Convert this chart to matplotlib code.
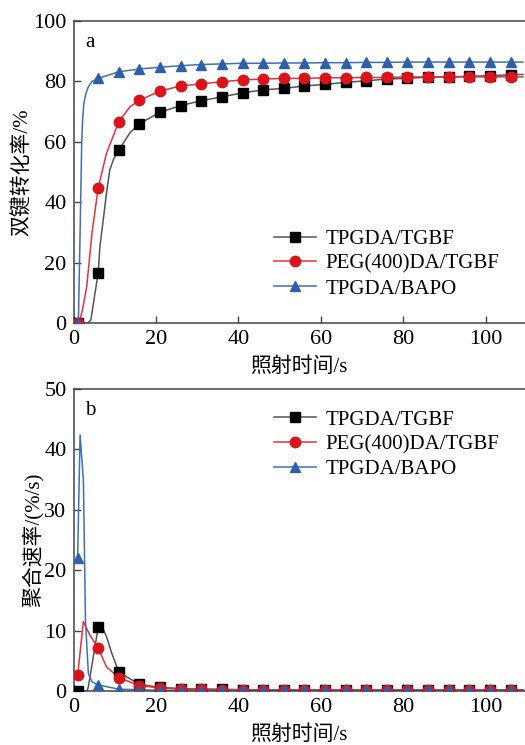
# plot.py
# Double-bond conversion (a) and polymerisation rate (b) vs irradiation time.

import numpy as np
import matplotlib
matplotlib.use('Agg')
import matplotlib.pyplot as plt

plt.rcParams['font.family'] = ['Liberation Serif', 'Noto Sans CJK SC']

labels = ['TPGDA/TGBF', 'PEG(400)DA/TGBF', 'TPGDA/BAPO']

# marker times (s)
t_mark = [1, 6, 11, 16, 21, 26, 31, 36, 41, 46, 51, 56, 61, 66, 71, 76, 81, 86, 91, 96, 101, 106]

# (a) conversion at the markers (%)
conv_black = [0, 16.7, 57.3, 66.0, 69.8, 72.0, 73.6, 74.9, 76.2, 77.2, 77.7,
              78.5, 79.0, 79.7, 80.2, 80.8, 81.0, 81.4, 81.5, 81.7, 81.9, 82.2]
conv_red = [0, 44.8, 66.7, 73.8, 76.8, 78.5, 79.2, 79.9, 80.5, 80.8, 81.0,
            81.0, 81.2, 81.2, 81.3, 81.3, 81.5, 81.5, 81.5, 81.5, 81.5, 81.5]
conv_blue = [0, 81.0, 83.2, 84.1, 84.7, 85.2, 85.6, 85.8, 86.0, 86.0, 86.1,
             86.1, 86.2, 86.2, 86.3, 86.3, 86.4, 86.4, 86.4, 86.4, 86.4, 86.4]

# (a) extra points
conv_black_t = [0, 3.5, 4.2, 5.0, 6.4, 7.2, 8.0, 8.8, 9.8, 13.7, 109]
conv_black_v = [0, 0, 1.0, 8.0, 25.3, 34.0, 43.0, 50.7, 54.5, 63.0, 82.3]
conv_red_t = [0, 1.6, 2.4, 3.2, 4.5, 8.0, 13.7, 109]
conv_red_v = [0, 1.0, 6.0, 12.0, 30.0, 56.2, 71.6, 81.5]
conv_blue_t = [0, 1.2, 1.6, 2.0, 2.2, 2.5, 3.0, 3.6, 4.5, 109]
conv_blue_v = [0, 1.0, 30.0, 60.0, 67.0, 72.7, 76.0, 78.2, 80.0, 86.4]

# (b) polymerisation rate at the markers (%/s)
rate_black = [0, 10.6, 3.1, 1.1, 0.6, 0.4, 0.3, 0.3, 0.2, 0.2, 0.2,
              0.2, 0.2, 0.2, 0.2, 0.2, 0.2, 0.2, 0.2, 0.2, 0.2, 0.2]
rate_red = [2.6, 7.1, 2.2, 0.9, 0.5, 0.3, 0.3, 0.2, 0.2, 0.2, 0.2,
            0.2, 0.2, 0.2, 0.2, 0.2, 0.2, 0.2, 0.2, 0.2, 0.2, 0.2]
rate_blue = [22.0, 1.0, 0.3, 0.2, 0.1, 0.1, 0.1, 0.1, 0.1, 0.1, 0.1,
             0.1, 0.1, 0.1, 0.1, 0.1, 0.1, 0.1, 0.1, 0.1, 0.1, 0.1]

# (b) extra points
rate_black_t = [3.3, 3.6, 5.2, 6.8, 8.0, 9.3, 109]
rate_black_v = [0, 0.7, 7.3, 10.9, 9.0, 6.2, 0.2]
rate_red_t = [2.4, 4.0, 8.0, 109]
rate_red_v = [11.5, 9.2, 4.0, 0.2]
rate_blue_t = [1.6, 2.4, 2.9, 3.6, 4.5, 109]
rate_blue_v = [42.4, 34.9, 11.8, 2.9, 1.5, 0.1]

line_colors = ['#555555', '#e8303a', '#3f6fb5']
mark_colors = ['#000000', '#d9141c', '#2f5fa6']
markers = ['s', 'o', '^']
msizes = [6.5, 7.5, 7.5]


def merged(tm, vm, te, ve):
    t = np.concatenate([tm, te])
    v = np.concatenate([vm, ve])
    order = np.argsort(t, kind='stable')
    return t[order], v[order]


def draw(ax, mark_vals, extra):
    for i in range(3):
        t, v = merged(t_mark, mark_vals[i], extra[i][0], extra[i][1])
        ax.plot(t, v, color=line_colors[i], lw=1.1, zorder=2)
        ax.plot(t_mark, mark_vals[i], ls='none', marker=markers[i],
                ms=msizes[i], color=mark_colors[i], zorder=3)
        # legend proxy
        ax.plot([], [], color=line_colors[i], lw=1.1, marker=markers[i],
                ms=msizes[i], mfc=mark_colors[i], mec=mark_colors[i], label=labels[i])


def style(ax, ymax, letter, ylabel):
    ax.set_xlim(0, 109.5)
    ax.set_ylim(0, ymax)
    ax.set_xticks([0, 20, 40, 60, 80, 100])
    ax.spines['right'].set_visible(False)
    for s in ['left', 'bottom', 'top']:
        ax.spines[s].set_color('#444444')
        ax.spines[s].set_linewidth(1.1)
    ax.tick_params(direction='in', length=5, width=1.0, color='#444444',
                   labelsize=16, pad=5)
    ax.set_xlabel('照射时间/s', fontsize=15, labelpad=6)
    ax.set_ylabel(ylabel, fontsize=15, labelpad=0)
    ax.text(0.025, 0.93, letter, transform=ax.transAxes, fontsize=15,
            ha='left', va='center')


fig = plt.figure(figsize=(5.25, 7.45), dpi=100)
ax1 = fig.add_axes([0.14, 0.5664, 0.86, 0.4054])
ax2 = fig.add_axes([0.14, 0.0725, 0.86, 0.4054])

draw(ax1, [conv_black, conv_red, conv_blue],
     [(conv_black_t, conv_black_v), (conv_red_t, conv_red_v), (conv_blue_t, conv_blue_v)])
style(ax1, 100, 'a', '双键转化率/%')
ax1.set_yticks([0, 20, 40, 60, 80, 100])
ax1.legend(loc='upper left', bbox_to_anchor=(0.445, 0.31), frameon=False,
           fontsize=15, handlelength=2.0, handletextpad=0.45,
           labelspacing=0.25, borderpad=0, borderaxespad=0)

draw(ax2, [rate_black, rate_red, rate_blue],
     [(rate_black_t, rate_black_v), (rate_red_t, rate_red_v), (rate_blue_t, rate_blue_v)])
style(ax2, 50, 'b', '聚合速率/(%/s)')
ax2.set_yticks([0, 10, 20, 30, 40, 50])
ax2.legend(loc='upper left', bbox_to_anchor=(0.445, 0.93), frameon=False,
           fontsize=15, handlelength=2.0, handletextpad=0.45,
           labelspacing=0.25, borderpad=0, borderaxespad=0)

fig.savefig('out.png', dpi=100)
